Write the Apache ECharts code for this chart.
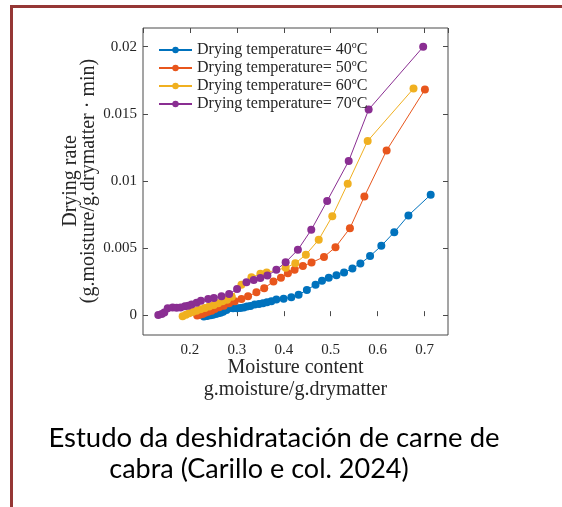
<!DOCTYPE html>
<html>
<head>
<meta charset="utf-8">
<script src="https://cdn.jsdelivr.net/npm/echarts@6/dist/echarts.min.js"></script>
<style>
    html, body { margin: 0; padding: 0; background: #fff; }
    #main { width: 562px; height: 507px; }
</style>
</head>
<body>
<div id="main"></div>
<script>
//datos (contenido de humedad / velocidad de secado)
var names = ['Drying temperature= 40', 'Drying temperature= 50', 'Drying temperature= 60', 'Drying temperature= 70'];
var colors = ['#0072BD', '#E8561C', '#F0B020', '#8A2E92'];

var moisture40 = [0.2297, 0.2368, 0.2440, 0.2495, 0.2552, 0.2601, 0.2652, 0.2707, 0.2780, 0.2850, 0.2920, 0.3005, 0.3077,
    0.3147, 0.3217, 0.3290, 0.3381, 0.3472, 0.3557, 0.3642, 0.3736, 0.3842, 0.3997, 0.4161, 0.4316, 0.4492, 0.4677,
    0.4815, 0.4959, 0.5123, 0.5285, 0.5463, 0.5633, 0.5839, 0.6079, 0.6355, 0.6657, 0.7131];
var rate40 = [-0.00003, 0.00001, 0.00006, 0.00011, 0.00016, 0.00021, 0.00026, 0.00033, 0.00046, 0.00061, 0.00058, 0.00058, 0.00061,
    0.00065, 0.00071, 0.00076, 0.00086, 0.00091, 0.00095, 0.00103, 0.00110, 0.00123, 0.00130, 0.00140, 0.00158, 0.00195, 0.00234,
    0.00262, 0.00286, 0.00304, 0.00324, 0.00353, 0.00391, 0.00446, 0.00522, 0.00624, 0.00748, 0.00902];

var moisture50 = [0.2155, 0.2212, 0.2270, 0.2325, 0.2389, 0.2461, 0.2531, 0.2622, 0.2722, 0.2835, 0.2956, 0.3098, 0.3239,
    0.3417, 0.3583, 0.3780, 0.3940, 0.4088, 0.4231, 0.4407, 0.4592, 0.4857, 0.5102, 0.5410, 0.5718, 0.6192, 0.7008];
var rate50 = [0.00004, 0.00011, 0.00016, 0.00026, 0.00033, 0.00041, 0.00054, 0.00066, 0.00078, 0.00095, 0.00110, 0.00128, 0.00147,
    0.00177, 0.00208, 0.00257, 0.00286, 0.00318, 0.00344, 0.00372, 0.00398, 0.00440, 0.00512, 0.00653, 0.00889, 0.01231, 0.01683];

var moisture60 = [0.1845, 0.1915, 0.1985, 0.2057, 0.2142, 0.2227, 0.2319, 0.2410, 0.2510, 0.2601, 0.2695, 0.2792, 0.2892,
    0.3098, 0.3311, 0.3502, 0.3636, 0.4040, 0.4246, 0.4471, 0.4745, 0.5034, 0.5363, 0.5788, 0.6765];
var rate60 = [0.00000, 0.00011, 0.00021, 0.00031, 0.00041, 0.00051, 0.00061, 0.00071, 0.00083, 0.00095, 0.00110, 0.00121, 0.00145,
    0.00234, 0.00289, 0.00314, 0.00324, 0.00359, 0.00393, 0.00456, 0.00568, 0.00742, 0.00984, 0.01301, 0.01690];

var moisture70 = [0.1326, 0.1399, 0.1454, 0.1526, 0.1632, 0.1717, 0.1802, 0.1894, 0.1964, 0.2036, 0.2142, 0.2234, 0.2389,
    0.2510, 0.2673, 0.2835, 0.3005, 0.3205, 0.3360, 0.3502, 0.3651, 0.3842, 0.4040, 0.4301, 0.4586, 0.4925, 0.5384,
    0.5809, 0.6971];
var rate70 = [0.00009, 0.00016, 0.00028, 0.00058, 0.00065, 0.00063, 0.00065, 0.00073, 0.00078, 0.00086, 0.00100, 0.00115, 0.00128,
    0.00135, 0.00147, 0.00165, 0.00202, 0.00251, 0.00269, 0.00284, 0.00301, 0.00344, 0.00400, 0.00493, 0.00641, 0.00856, 0.01152,
    0.01534, 0.02000];

var xTicks = [0.2, 0.3, 0.4, 0.5, 0.6, 0.7];
var yTicks = [0, 0.005, 0.01, 0.015, 0.02];

var allX = [moisture40, moisture50, moisture60, moisture70];
var allY = [rate40, rate50, rate60, rate70];

var serif = 'Liberation Serif';
var axisColor = '#4a4a4a';
var textColor = '#262626';

var myChart = echarts.init(document.getElementById('main'), null, {renderer: 'canvas'});

//armar las series
var series = [];
for (var i = 0; i < names.length; i++) {
    var pts = [];
    for (var j = 0; j < allX[i].length; j++) {
        pts.push([allX[i][j], allY[i][j]]);
    }
    series.push({
        name: names[i],
        type: 'line',
        xAxisIndex: 0,
        yAxisIndex: 0,
        data: pts,
        symbol: 'circle',
        symbolSize: 8,
        showAllSymbol: true,
        animation: false,
        itemStyle: {color: colors[i]},
        lineStyle: {color: colors[i], width: 1}
    });
}

var option = {
    backgroundColor: '#fff',
    animation: false,
    legend: {
        data: names,
        orient: 'vertical',
        left: 153,
        top: 35,
        itemWidth: 33,
        itemHeight: 8,
        itemGap: 0,
        formatter: function (name) {
            //superindice "o" como en el original
            return '{t|' + name + '}{s|o}{t|C}';
        },
        textStyle: {
            fontFamily: serif,
            color: textColor,
            rich: {
                t: {fontFamily: serif, fontSize: 16, color: textColor, lineHeight: 20},
                s: {fontFamily: serif, fontSize: 10, color: textColor, verticalAlign: 'top'}
            }
        }
    },
    grid: [
        //marco de datos
        {left: 143, right: 114, top: 28, bottom: 172, show: true, borderColor: axisColor, borderWidth: 1, containLabel: false},
        //solo para las marcas del eje y
        {left: 143, right: 114, top: 46.7, bottom: 191.5, containLabel: false}
    ],
    xAxis: [
        {
            gridIndex: 0, type: 'value', min: 0.1, max: 0.75, interval: 0.1, position: 'bottom',
            axisLine: {show: false},
            axisTick: {inside: true, length: 5, lineStyle: {color: axisColor}},
            splitLine: {show: false},
            axisLabel: {
                margin: 8, fontFamily: serif, fontSize: 15, color: textColor,
                showMinLabel: false, showMaxLabel: false,
                formatter: function (v) {
                    for (var k = 0; k < xTicks.length; k++) {
                        if (Math.abs(v - xTicks[k]) < 1e-6) return xTicks[k].toFixed(1);
                    }
                    return '';
                }
            }
        },
        {
            gridIndex: 0, type: 'value', min: 0.1, max: 0.75, interval: 0.1, position: 'top',
            axisLine: {show: false},
            axisTick: {inside: true, length: 5, lineStyle: {color: axisColor}},
            splitLine: {show: false},
            axisLabel: {show: false}
        },
        {gridIndex: 1, type: 'value', min: 0.1, max: 0.75, show: false}
    ],
    yAxis: [
        {gridIndex: 0, type: 'value', min: -0.0014, max: 0.0214, show: false},
        {
            gridIndex: 1, type: 'value', min: 0, max: 0.02, interval: 0.005, position: 'left',
            axisLine: {show: false},
            axisTick: {inside: true, length: 5, lineStyle: {color: axisColor}},
            splitLine: {show: false},
            axisLabel: {
                margin: 6, fontFamily: serif, fontSize: 15, color: textColor,
                formatter: function (v) {
                    for (var k = 0; k < yTicks.length; k++) {
                        if (Math.abs(v - yTicks[k]) < 1e-9) return String(yTicks[k]);
                    }
                    return '';
                }
            }
        },
        {
            gridIndex: 1, type: 'value', min: 0, max: 0.02, interval: 0.005, position: 'right',
            axisLine: {show: false},
            axisTick: {inside: true, length: 5, lineStyle: {color: axisColor}},
            splitLine: {show: false},
            axisLabel: {show: false}
        }
    ],
    graphic: [
        //borde rojo (arriba e izquierda)
        {type: 'rect', left: 10, top: 5, shape: {width: 552, height: 3}, style: {fill: '#953735'}, silent: true},
        {type: 'rect', left: 10, top: 5, shape: {width: 3, height: 502}, style: {fill: '#953735'}, silent: true},
        //titulos de ejes
        {type: 'text', x: 295.5, y: 368, style: {text: 'Moisture content', font: '20px "Liberation Serif"', fill: textColor, textAlign: 'center', textVerticalAlign: 'middle'}},
        {type: 'text', x: 295.5, y: 390, style: {text: 'g.moisture/g.drymatter', font: '20px "Liberation Serif"', fill: textColor, textAlign: 'center', textVerticalAlign: 'middle'}},
        {type: 'text', x: 71, y: 181, rotation: Math.PI / 2, style: {text: 'Drying rate', font: '20px "Liberation Serif"', fill: textColor, textAlign: 'center', textVerticalAlign: 'middle'}},
        {type: 'text', x: 89, y: 181, rotation: Math.PI / 2, style: {text: '(g.moisture/g.drymatter \u00b7 min)', font: '20px "Liberation Serif"', fill: textColor, textAlign: 'center', textVerticalAlign: 'middle'}},
        //pie de figura
        {type: 'text', x: 274, y: 438, style: {text: 'Estudo da deshidratación de carne de', font: '27.5px Lato', fill: '#000', textAlign: 'center', textVerticalAlign: 'middle'}},
        {type: 'text', x: 259, y: 469, style: {text: 'cabra (Carillo e col. 2024)', font: '27px Lato', fill: '#000', textAlign: 'center', textVerticalAlign: 'middle'}}
    ],
    series: series
};

myChart.setOption(option);
</script>
</body>
</html>
